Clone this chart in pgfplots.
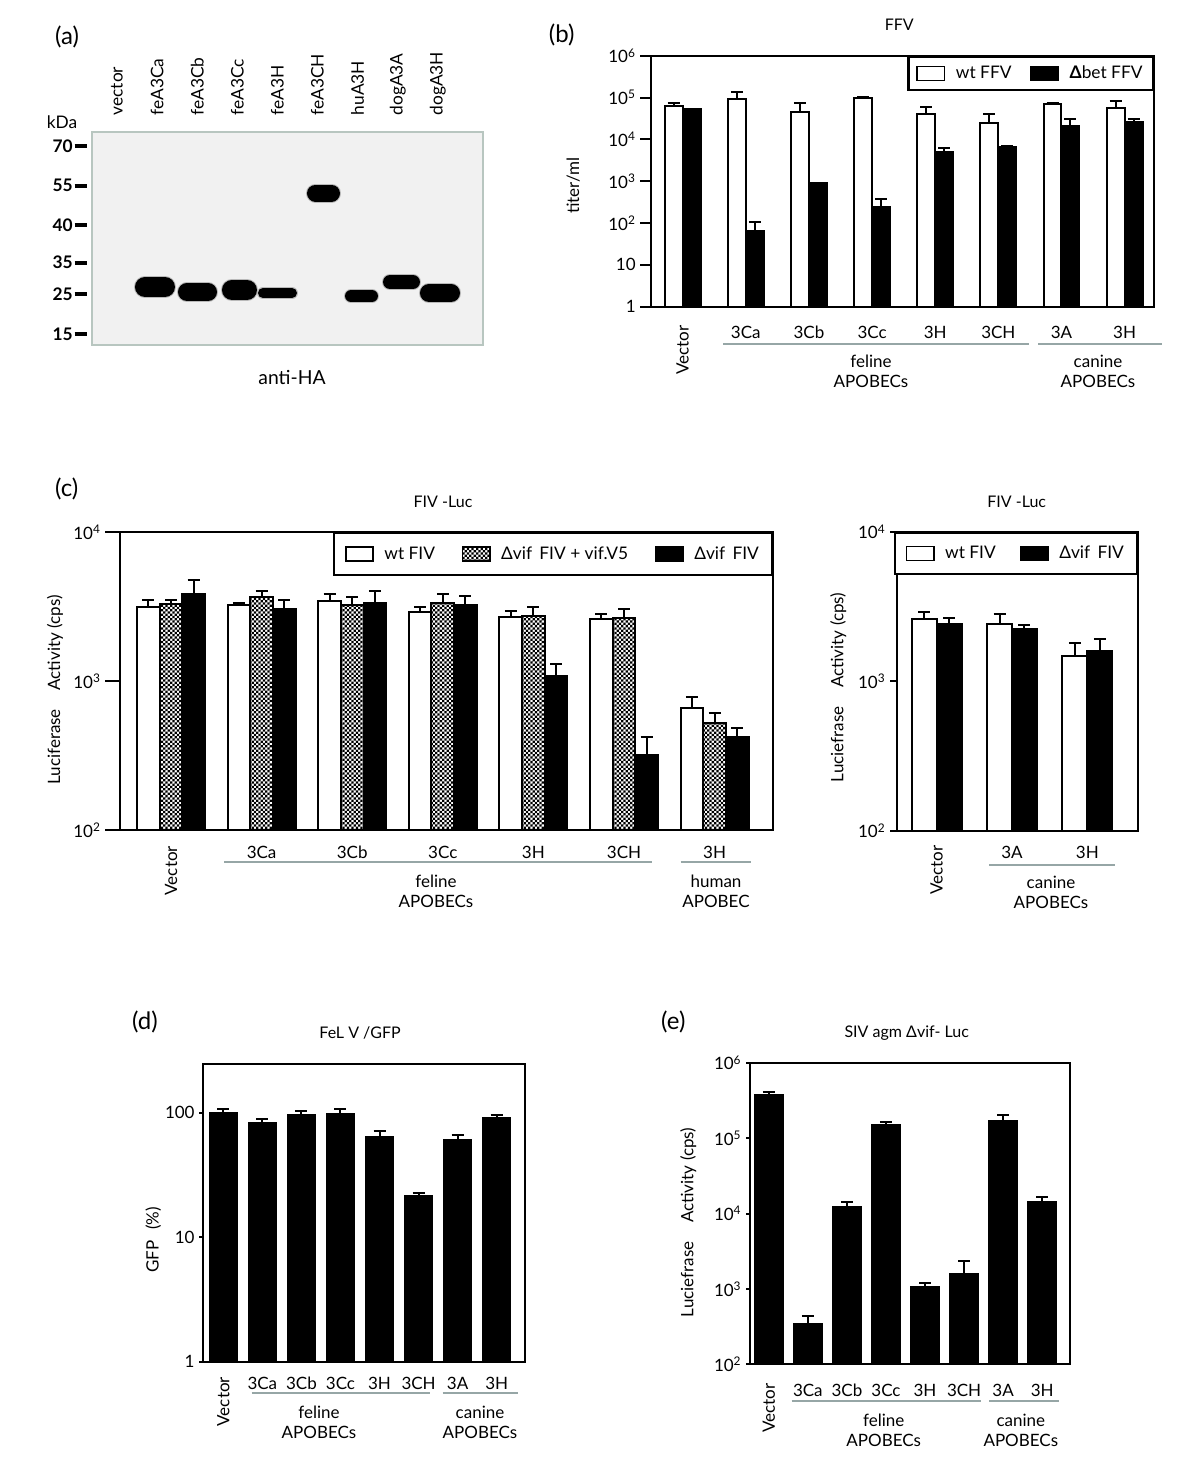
\documentclass[border=0pt]{standalone}
\usepackage{fontspec}
\setmainfont{Lato}
\usepackage{pgfplots}
\pgfplotsset{compat=1.18}
\usepackage{pgfplotstable}
\usetikzlibrary{patterns}

\definecolor{grp}{RGB}{150,166,166}
\definecolor{blotbg}{RGB}{241,241,241}
\definecolor{blotframe}{RGB}{184,198,192}

\pgfdeclarepatternformonly{finecheck}{\pgfqpoint{-0.1pt}{-0.1pt}}{\pgfqpoint{3.5pt}{3.5pt}}{\pgfqpoint{3.4pt}{3.4pt}}{%
  \pgfpathrectangle{\pgfqpoint{0pt}{0pt}}{\pgfqpoint{1.7pt}{1.7pt}}%
  \pgfpathrectangle{\pgfqpoint{1.7pt}{1.7pt}}{\pgfqpoint{1.7pt}{1.7pt}}%
  \pgfusepath{fill}}

\newcommand\fA{\fontsize{12.75pt}{15pt}\selectfont}
\newcommand\fT{\fontsize{12pt}{15pt}\selectfont}
\newcommand\fB{\fontsize{13pt}{15pt}\selectfont}
\newcommand\fP{\fontsize{18pt}{21pt}\selectfont}

\pgfplotsset{
  rlegend/.style={legend image code/.code={\draw[##1, line width=1.2pt] (0pt,-5.2pt) rectangle (20.5pt,5.2pt); \path[draw=none, fill=none, pattern=none] (0pt,0pt) -- (27pt,0pt);}},
}

% panel (b): FFV titers
\pgfplotstableread{
x w wt b bt
0 6.3e4 7.5e4 5.2e4 5.4e4
1 9.2e4 1.38e5 66 104
2 4.6e4 7.4e4 922 922
3 9.6e4 1.03e5 246 376
4 4.05e4 6.0e4 5.1e3 6.1e3
5 2.42e4 4.0e4 6.7e3 6.9e3
6 6.9e4 7.4e4 2.09e4 3.0e4
7 5.5e4 8.4e4 2.56e4 3.0e4
}\dataB

% panel (c) left: FIV-Luc, feline + human
\pgfplotstableread{
x w wt p pt k kt
0 3155 3530 3290 3530 3840 4760
1 3240 3370 3650 4040 3030 3530
2 3460 3840 3240 3650 3370 4040
3 2920 3155 3370 3880 3240 3740
4 2700 2965 2740 3155 1082 1300
5 2605 2845 2675 3055 317 419
6 659 777 520 612 423 481
}\dataCL

% panel (c) right: FIV-Luc, canine
\pgfplotstableread{
x w wt k kt
0 2590 2920 2432 2630
1 2432 2810 2250 2370
2 1472 1810 1592 1928
}\dataCR

% panel (d): FeLV/GFP
\pgfplotstableread{
x v vt
0 100 108
1 83 88.5
2 95.3 103.7
3 97.7 107.7
4 63.4 71.7
5 21.4 22.8
6 60.4 65.8
7 90.2 95.3
}\dataD

% panel (e): SIVagm dvif-Luc
\pgfplotstableread{
x v vt
0 3.73e5 4.05e5
1 342 437
2 1.23e4 1.43e4
3 1.49e5 1.63e5
4 1050 1186
5 1578 2345
6 1.70e5 2.02e5
7 1.41e4 1.67e4
}\dataE

\begin{document}
\begin{tikzpicture}
\path[use as bounding box] (0pt,0pt) rectangle (900pt,-1106.25pt);

% ---------------- (a) western blot ----------------
\begin{axis}[scale only axis, anchor=north west, at={(69pt,-99pt)}, width=293.25pt, height=159.75pt,
  xmin=-0.623, xmax=9.127, ymin=0, ymax=213, y dir=reverse,
  axis background/.style={fill=blotbg},
  axis line style={draw=blotframe, line width=1.6pt},
  xtick={0,...,8}, xticklabels={vector,feA3Ca,feA3Cb,feA3Cc,feA3H,feA3CH,huA3H,dogA3A,dogA3H},
  xticklabel pos=upper, xtick style={draw=none},
  xticklabel style={rotate=90, anchor=west, font=\fB},
  ytick={14,53.7,93,130.7,162,202}, yticklabels={70,55,40,35,25,15},
  ytick pos=left, tick align=outside, major tick length=9pt,
  ytick style={line width=3pt, black, xshift=-4pt},
  yticklabel style={font=\fB\bfseries, xshift=-2pt}]
\addplot[gray!55, line width=16.5pt, line cap=round] coordinates {(0.698,155)(1.197,155)};
\addplot[black, line width=15pt, line cap=round] coordinates {(0.698,155)(1.197,155)};
\addplot[gray!55, line width=15pt, line cap=round] coordinates {(1.745,160)(2.270,160)};
\addplot[black, line width=13.5pt, line cap=round] coordinates {(1.745,160)(2.270,160)};
\addplot[gray!55, line width=16.5pt, line cap=round] coordinates {(2.867,158)(3.242,158)};
\addplot[black, line width=15pt, line cap=round] coordinates {(2.867,158)(3.242,158)};
\addplot[gray!55, line width=9pt, line cap=round] coordinates {(3.641,161)(4.364,161)};
\addplot[black, line width=7.5pt, line cap=round] coordinates {(3.641,161)(4.364,161)};
\addplot[gray!55, line width=14.25pt, line cap=round] coordinates {(4.950,61)(5.349,61)};
\addplot[black, line width=12.75pt, line cap=round] coordinates {(4.950,61)(5.349,61)};
\addplot[gray!55, line width=10.5pt, line cap=round] coordinates {(5.836,164)(6.359,164)};
\addplot[black, line width=9pt, line cap=round] coordinates {(5.836,164)(6.359,164)};
\addplot[gray!55, line width=12pt, line cap=round] coordinates {(6.808,150)(7.381,150)};
\addplot[black, line width=10.5pt, line cap=round] coordinates {(6.808,150)(7.381,150)};
\addplot[gray!55, line width=15pt, line cap=round] coordinates {(7.780,161)(8.330,161)};
\addplot[black, line width=13.5pt, line cap=round] coordinates {(7.780,161)(8.330,161)};
\end{axis}

% ---------------- (b) FFV ----------------
\begin{axis}[scale only axis, anchor=north west, ymode=log, log origin=infty,
  axis line style={line width=1.6pt}, tick align=outside, ytick pos=left,
  xtick style={draw=none}, ytick style={line width=1.5pt, black}, yminorticks=false,
  tick label style={font=\fA}, xticklabel style={anchor=north, yshift=-2.75pt},
  legend cell align=left,
  at={(488.25pt,-41.775pt)}, width=377.475pt, height=188.25pt,
  xmin=-0.502, xmax=7.47, ymin=1, ymax=1e6, major tick length=8pt,
  ytick={1,10,100,1000,10000,100000,1000000},
  yticklabels={1,10,10\textsuperscript{2},10\textsuperscript{3},10\textsuperscript{4},10\textsuperscript{5},10\textsuperscript{6}},
  xtick={0,...,7}, xticklabels={\rotatebox{90}{Vector},3Ca,3Cb,3Cc,3H,3CH,3A,3H},
  legend columns=2,
  legend style={at={(1,1)}, anchor=north east, draw=black, line width=1.6pt, fill=white, font=\fB,
    inner xsep=6pt, inner ysep=5pt, /tikz/every even column/.append style={column sep=12pt}}]
\addplot[ybar, fill=white, draw=black, line width=1.5pt, rlegend, bar width=0.285, bar shift=0,
  error bars/.cd, y dir=plus, y explicit, error bar style={line width=1.5pt, black}, error mark options={rotate=90, mark size=4.5pt, line width=1.5pt, black}]
  table[x expr=\thisrow{x}-0.1425, y=w, y error expr=\thisrow{wt}-\thisrow{w}] {\dataB};
\addlegendentry{wt FFV}
\addplot[ybar, fill=black, draw=black, line width=1.5pt, rlegend, bar width=0.285, bar shift=0,
  error bars/.cd, y dir=plus, y explicit, error bar style={line width=1.5pt, black}, error mark options={rotate=90, mark size=4.5pt, line width=1.5pt, black}]
  table[x expr=\thisrow{x}+0.1425, y=b, y error expr=\thisrow{bt}-\thisrow{b}] {\dataB};
\addlegendentry{\textbf{Δ}bet FFV}
\end{axis}

% ---------------- (c) left FIV-Luc ----------------
\begin{axis}[scale only axis, anchor=north west, ymode=log, log origin=infty,
  axis line style={line width=1.6pt}, tick align=outside, ytick pos=left,
  xtick style={draw=none}, ytick style={line width=1.5pt, black}, yminorticks=false,
  tick label style={font=\fA}, xticklabel style={anchor=north, yshift=2.5pt},
  legend cell align=left,
  at={(90pt,-399.225pt)}, width=489.975pt, height=223.275pt,
  xmin=-0.563, xmax=6.648, ymin=100, ymax=10000, major tick length=11pt,
  ytick={100,1000,10000},
  yticklabels={10\textsuperscript{2},10\textsuperscript{3},10\textsuperscript{4}},
  xtick={0,...,6}, xticklabels={\rotatebox{90}{Vector},3Ca,3Cb,3Cc,3H,3CH,3H},
  legend columns=3,
  legend style={at={(1,1)}, anchor=north east, draw=black, line width=1.6pt, fill=white, font=\fB,
    inner xsep=8pt, inner ysep=8pt, /tikz/every even column/.append style={column sep=18pt}}]
\addplot[ybar, fill=white, draw=black, line width=1.5pt, rlegend, bar width=0.25, bar shift=0,
  error bars/.cd, y dir=plus, y explicit, error bar style={line width=1.5pt, black}, error mark options={rotate=90, mark size=4.5pt, line width=1.5pt, black}]
  table[x expr=\thisrow{x}-0.25, y=w, y error expr=\thisrow{wt}-\thisrow{w}] {\dataCL};
\addlegendentry{wt FIV}
\addplot[ybar, pattern=finecheck, pattern color=black, draw=black, line width=1.5pt, rlegend, bar width=0.25, bar shift=0,
  error bars/.cd, y dir=plus, y explicit, error bar style={line width=1.5pt, black}, error mark options={rotate=90, mark size=4.5pt, line width=1.5pt, black}]
  table[x=x, y=p, y error expr=\thisrow{pt}-\thisrow{p}] {\dataCL};
\addlegendentry{Δvif\, FIV + vif.V5}
\addplot[ybar, fill=black, draw=black, line width=1.5pt, rlegend, bar width=0.25, bar shift=0,
  error bars/.cd, y dir=plus, y explicit, error bar style={line width=1.5pt, black}, error mark options={rotate=90, mark size=4.5pt, line width=1.5pt, black}]
  table[x expr=\thisrow{x}+0.25, y=k, y error expr=\thisrow{kt}-\thisrow{k}] {\dataCL};
\addlegendentry{Δvif\, FIV}
\end{axis}

% ---------------- (c) right FIV-Luc canine ----------------
\begin{axis}[scale only axis, anchor=north west, ymode=log, log origin=infty,
  axis line style={line width=1.6pt}, tick align=outside, ytick pos=left,
  xtick style={draw=none}, ytick style={line width=1.5pt, black}, yminorticks=false,
  tick label style={font=\fA}, xticklabel style={anchor=north, yshift=-2.75pt},
  legend cell align=left,
  at={(672.525pt,-398.775pt)}, width=181.2pt, height=224.25pt,
  xmin=-0.531, xmax=2.677, ymin=100, ymax=10000, major tick length=5pt,
  ytick={100,1000,10000},
  yticklabels={10\textsuperscript{2},10\textsuperscript{3},10\textsuperscript{4}},
  xtick={0,...,2}, xticklabels={\rotatebox{90}{Vector},3A,3H},
  legend columns=2,
  legend style={at={(1,1)}, anchor=north east, draw=black, line width=1.6pt, fill=white, font=\fB,
    inner xsep=8pt, inner ysep=8pt, /tikz/every even column/.append style={column sep=16pt}}]
\addplot[ybar, fill=white, draw=black, line width=1.5pt, rlegend, bar width=0.33, bar shift=0,
  error bars/.cd, y dir=plus, y explicit, error bar style={line width=1.5pt, black}, error mark options={rotate=90, mark size=4.5pt, line width=1.5pt, black}]
  table[x expr=\thisrow{x}-0.165, y=w, y error expr=\thisrow{wt}-\thisrow{w}] {\dataCR};
\addlegendentry{wt FIV}
\addplot[ybar, fill=black, draw=black, line width=1.5pt, rlegend, bar width=0.33, bar shift=0,
  error bars/.cd, y dir=plus, y explicit, error bar style={line width=1.5pt, black}, error mark options={rotate=90, mark size=4.5pt, line width=1.5pt, black}]
  table[x expr=\thisrow{x}+0.165, y=k, y error expr=\thisrow{kt}-\thisrow{k}] {\dataCR};
\addlegendentry{Δvif\, FIV}
\end{axis}

% ---------------- (d) FeLV/GFP ----------------
\begin{axis}[scale only axis, anchor=north west, ymode=log, log origin=infty,
  axis line style={line width=1.6pt}, tick align=outside, ytick pos=left,
  xtick style={draw=none}, ytick style={line width=1.5pt, black}, yminorticks=false,
  tick label style={font=\fA}, xticklabel style={anchor=north, yshift=-5pt},
  at={(152.475pt,-798pt)}, width=241.275pt, height=223.275pt,
  xmin=-0.512, xmax=7.724, ymin=1, ymax=246, major tick length=3pt,
  ytick={1,10,100}, yticklabels={1,10,100},
  xtick={0,...,7}, xticklabels={\rotatebox{90}{Vector},3Ca,3Cb,3Cc,3H,3CH,3A,3H}]
\addplot[ybar, fill=black, draw=black, line width=1.5pt, bar width=0.69, bar shift=0,
  error bars/.cd, y dir=plus, y explicit, error bar style={line width=1.5pt, black}, error mark options={rotate=90, mark size=4.5pt, line width=1.5pt, black}]
  table[x=x, y=v, y error expr=\thisrow{vt}-\thisrow{v}] {\dataD};
\end{axis}

% ---------------- (e) SIVagm ----------------
\begin{axis}[scale only axis, anchor=north west, ymode=log, log origin=infty,
  axis line style={line width=1.6pt}, tick align=outside, ytick pos=left,
  xtick style={draw=none}, ytick style={line width=1.5pt, black}, yminorticks=false,
  tick label style={font=\fA}, xticklabel style={anchor=north, yshift=-8pt},
  at={(562.5pt,-797.025pt)}, width=240pt, height=226.2pt,
  xmin=-0.481, xmax=7.711, ymin=100, ymax=1e6, major tick length=3pt,
  ytick={100,1000,10000,100000,1000000},
  yticklabels={10\textsuperscript{2},10\textsuperscript{3},10\textsuperscript{4},10\textsuperscript{5},10\textsuperscript{6}},
  xtick={0,...,7}, xticklabels={\rotatebox{90}{Vector},3Ca,3Cb,3Cc,3H,3CH,3A,3H}]
\addplot[ybar, fill=black, draw=black, line width=1.5pt, bar width=0.71, bar shift=0,
  error bars/.cd, y dir=plus, y explicit, error bar style={line width=1.5pt, black}, error mark options={rotate=90, mark size=4.5pt, line width=1.5pt, black}]
  table[x=x, y=v, y error expr=\thisrow{vt}-\thisrow{v}] {\dataE};
\end{axis}

% ---------------- annotations (pixel grid) ----------------
\begin{scope}[x=0.75pt, y=-0.75pt]
\node[font=\fP] at (67,37) {(a)};
\node[font=\fP] at (561.7,35) {(b)};
\node[font=\fP] at (66.7,489) {(c)};
\node[font=\fP] at (145,1022) {(d)};
\node[font=\fP] at (673.3,1022) {(e)};

\node[font=\fB] at (62,122) {kDa};
\node[font=\fontsize{14.5pt}{17pt}\selectfont] at (292,377) {anti-HA};

\node[font=\fT] at (899.3,25) {FFV};
\node[font=\fT] at (443,501.7) {FIV -Luc};
\node[font=\fT] at (1016.7,502.3) {FIV -Luc};
\node[font=\fT] at (360,1033.3) {FeL V /GFP};
\node[font=\fT] at (906.7,1033.3) {SIV agm Δvif- Luc};

\node[font=\fA, rotate=90] at (573.3,185.7) {titer/ml};
\node[font=\fA, rotate=90] at (55,690) {Luciferase\hspace{14pt}Activity (cps)};
\node[font=\fA, rotate=90] at (838.3,687.5) {Luciefrase\hspace{14pt}Activity (cps)};
\node[font=\fA, rotate=90] at (153.3,1240) {GFP\hspace{8pt}(\%)};
\node[font=\fA, rotate=90] at (688.3,1222.5) {Luciefrase\hspace{14pt}Activity (cps)};

\begin{scope}[grp, line width=1.6pt]
\draw (723.3,344) -- (1029,344);
\draw (1038.3,344) -- (1161.7,344);
\draw (224.3,861.7) -- (651.7,861.7);
\draw (680.7,861.7) -- (750.7,861.7);
\draw (989.3,865) -- (1115,865);
\draw (251.7,1393.3) -- (430,1393.3);
\draw (442.7,1393.3) -- (518.3,1393.3);
\draw (791.7,1400.7) -- (980.7,1400.7);
\draw (989.3,1400.7) -- (1059.3,1400.7);
\end{scope}

\node[font=\fA, align=center] at (871,371) {feline\\APOBECs};
\node[font=\fA, align=center] at (1098,371) {canine\\APOBECs};
\node[font=\fA, align=center] at (436,891.7) {feline\\APOBECs};
\node[font=\fA, align=center] at (716,891.7) {human\\APOBEC};
\node[font=\fA, align=center] at (1051,892) {canine\\APOBECs};
\node[font=\fA, align=center] at (319,1422) {feline\\APOBECs};
\node[font=\fA, align=center] at (480,1422) {canine\\APOBECs};
\node[font=\fA, align=center] at (883.7,1430.3) {feline\\APOBECs};
\node[font=\fA, align=center] at (1020.8,1430.3) {canine\\APOBECs};
\end{scope}
\end{tikzpicture}
\end{document}
